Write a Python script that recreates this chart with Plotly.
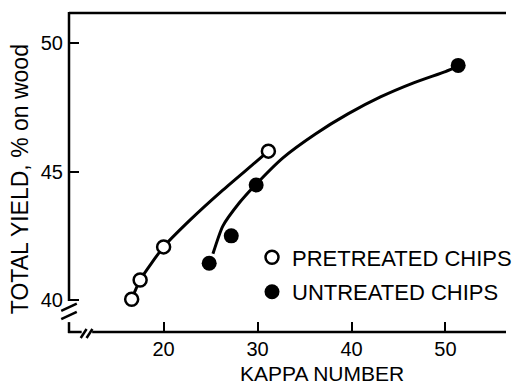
import plotly.graph_objects as go

# Measured points
pre_kappa = [16.6, 17.5, 20.0, 31.15]
pre_yield = [40.03, 40.78, 42.07, 45.8]
unt_kappa = [24.85, 27.2, 29.85, 51.35]
unt_yield = [41.43, 42.5, 44.48, 49.14]

# Hand-fitted trend curves
pre_curve_kappa = [16.6, 17.5, 20.0, 22.83, 26.3, 29.76, 31.15]
pre_curve_yield = [40.03, 40.78, 42.07, 43.12, 44.28, 45.36, 45.8]
unt_curve_kappa = [25.25, 26.3, 28.02, 29.76, 32.7, 36.16, 39.62, 43.08, 46.54, 50.0, 51.35]
unt_curve_yield = [41.8, 42.88, 43.77, 44.48, 45.54, 46.47, 47.25, 47.91, 48.45, 48.9, 49.1]

x_ticks = [20, 30, 40, 50]
y_ticks = [40, 45, 50]

FONT = "Liberation Sans, Arial, sans-serif"
INK = "black"

fig = go.Figure()

fig.add_trace(go.Scatter(x=pre_curve_kappa, y=pre_curve_yield, mode="lines",
                         line=dict(color=INK, width=3, shape="spline", smoothing=0.6),
                         showlegend=False, hoverinfo="skip"))
fig.add_trace(go.Scatter(x=unt_curve_kappa, y=unt_curve_yield, mode="lines",
                         line=dict(color=INK, width=3, shape="spline", smoothing=0.6),
                         showlegend=False, hoverinfo="skip"))

fig.add_trace(go.Scatter(x=pre_kappa, y=pre_yield, mode="markers", name="PRETREATED CHIPS",
                         legendgroup="a",
                         marker=dict(symbol="circle", size=13, color="white",
                                     line=dict(color=INK, width=2.5))))
fig.add_trace(go.Scatter(x=unt_kappa, y=unt_yield, mode="markers", name="UNTREATED CHIPS",
                         legendgroup="b",
                         marker=dict(symbol="circle", size=15, color=INK,
                                     line=dict(color=INK, width=0))))

axis_common = dict(showgrid=False, zeroline=False, showline=False,
                   ticks="inside", ticklen=10, tickwidth=2, tickcolor=INK,
                   tickfont=dict(family=FONT, size=20, color=INK))

fig.update_xaxes(range=[9.93, 56.44], tickvals=x_ticks, ticktext=[str(v) for v in x_ticks],
                 ticklabelstandoff=3, **axis_common)
fig.update_yaxes(range=[38.755, 51.18], tickvals=y_ticks, ticktext=[str(v) for v in y_ticks],
                 ticklabelstandoff=5, **axis_common)

# Frame lines with axis breaks (paper coordinates)
line = dict(color=INK, width=2.5)
shapes = [
    dict(type="line", xref="paper", yref="paper", x0=0, y0=1, x1=1, y1=1, line=line),
    dict(type="line", xref="paper", yref="paper", x0=0, y0=1.003, x1=0, y1=0.097, line=line),
    dict(type="line", xref="paper", yref="paper", x0=0, y0=0.031, x1=0, y1=-0.003, line=line),
    dict(type="line", xref="paper", yref="paper", x0=-0.002, y0=0, x1=0.029, y1=0, line=line),
    dict(type="line", xref="paper", yref="paper", x0=0.053, y0=0, x1=1, y1=0, line=line),
    # y-axis break marks
    dict(type="line", xref="paper", yref="paper", x0=-0.0178, y0=0.066, x1=0.0178, y1=0.089, line=line),
    dict(type="line", xref="paper", yref="paper", x0=-0.0178, y0=0.040, x1=0.0178, y1=0.063, line=line),
    # x-axis break marks
    dict(type="line", xref="paper", yref="paper", x0=0.0268, y0=-0.0188, x1=0.0402, y1=0.0094, line=line),
    dict(type="line", xref="paper", yref="paper", x0=0.0402, y0=-0.0188, x1=0.0536, y1=0.0094, line=line),
]

annotations = [
    dict(text="KAPPA NUMBER", xref="paper", yref="paper", x=0.580, y=-0.1724,
         xanchor="center", yanchor="bottom", showarrow=False,
         font=dict(family=FONT, size=21, color=INK)),
    dict(text="TOTAL YIELD, % on wood", xref="paper", yref="paper", x=-0.1116, y=0.4796,
         xanchor="center", yanchor="middle", showarrow=False, textangle=-90,
         font=dict(family=FONT, size=23, color=INK)),
]

fig.update_layout(
    width=517, height=387,
    margin=dict(l=69, r=0, t=13, b=55),
    paper_bgcolor="white", plot_bgcolor="white",
    shapes=shapes, annotations=annotations,
    showlegend=True,
    legend=dict(x=0.419, y=0.179, xanchor="left", yanchor="middle",
                bgcolor="rgba(0,0,0,0)", borderwidth=0, tracegroupgap=3,
                itemwidth=30,
                font=dict(family=FONT, size=22, color=INK)),
)

fig.write_html("out.html")
